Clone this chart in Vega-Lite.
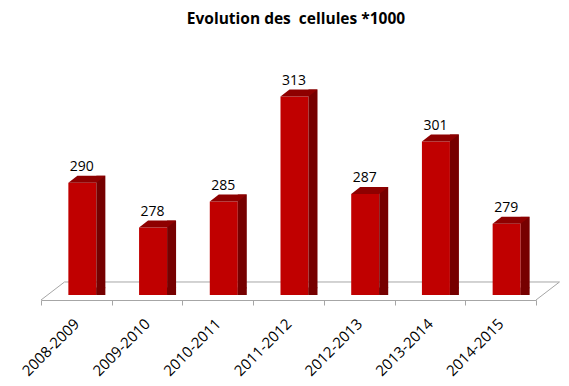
{
  "$schema": "https://vega.github.io/schema/vega-lite/v6.json",
  "width": 495,
  "height": 230,
  "autosize": {"type": "none"},
  "padding": {"left": 41, "top": 70, "right": 33, "bottom": 86},
  "background": "white",
  "title": {
    "text": "Evolution des \u00a0cellules *1000",
    "font": "Open Sans",
    "fontSize": 15.5,
    "fontWeight": "bold",
    "color": "black",
    "anchor": "middle",
    "frame": "group",
    "baseline": "alphabetic",
    "offset": 31,
    "dx": 7.5
  },
  "config": {
    "view": {"stroke": null},
    "axis": {
      "domainColor": "#A6A6A6",
      "tickColor": "#A6A6A6",
      "tickSize": 5,
      "grid": false,
      "labelFont": "Open Sans",
      "labelFontSize": 15,
      "labelColor": "black"
    }
  },
  "data": {
    "values": [
      {"saison": "2008-2009", "v": 290},
      {"saison": "2009-2010", "v": 278},
      {"saison": "2010-2011", "v": 285},
      {"saison": "2011-2012", "v": 313},
      {"saison": "2012-2013", "v": 287},
      {"saison": "2013-2014", "v": 301},
      {"saison": "2014-2015", "v": 279}
    ]
  },
  "layer": [
    {
      "data": {
        "values": [
          {"fx": 0, "fy": 258.66, "o": 1},
          {"fx": 0.332, "fy": 263.47, "o": 2},
          {"fx": 7.332, "fy": 263.47, "o": 3},
          {"fx": 7, "fy": 258.66, "o": 4}
        ]
      },
      "mark": {"type": "line", "stroke": "#A6A6A6", "strokeWidth": 1},
      "encoding": {
        "x": {"field": "fx", "type": "quantitative", "scale": {"domain": [0, 7], "nice": false, "zero": false}, "axis": null},
        "y": {"field": "fy", "type": "quantitative", "scale": {"domain": [258.66, 320.11], "nice": false, "zero": false}, "axis": null},
        "order": {"field": "o"}
      }
    },
    {
      "mark": {"type": "bar", "width": 28, "xOffset": 6, "color": "#C00000"},
      "encoding": {
        "x": {
          "field": "saison", "type": "nominal", "sort": null,
          "scale": {"paddingInner": 0, "paddingOuter": 0},
          "axis": {"title": null, "labelAngle": -45, "labelAlign": "right", "labelBaseline": "middle", "tickBand": "extent", "labelPadding": 16}
        },
        "y": {"field": "v", "type": "quantitative", "scale": {"domain": [258.66, 320.11], "nice": false, "zero": false}, "axis": null},
        "y2": {"datum": 260}
      }
    },
    {
      "mark": {"type": "bar", "width": 9, "xOffset": 24.5, "yOffset": -7, "color": "#760000"},
      "encoding": {
        "x": {"field": "saison", "type": "nominal", "sort": null, "axis": null},
        "y": {"field": "v", "type": "quantitative", "axis": null},
        "y2": {"datum": 260}
      }
    },
    {
      "mark": {"type": "point", "filled": true, "size": 100, "opacity": 1, "strokeWidth": 0, "color": "#760000", "shape": "M 4 0 L 4 -1.5 L 5.8 -1.5 L 5.8 -1.4 Z"},
      "encoding": {
        "x": {"field": "saison", "type": "nominal", "sort": null, "axis": null},
        "y": {"datum": 260, "axis": null}
      }
    },
    {
      "mark": {"type": "point", "filled": true, "size": 100, "opacity": 1, "strokeWidth": 0, "color": "#8E0000", "shape": "M -1.6 0 L 4 0 L 5.8 -1.4 L 0.2 -1.4 Z"},
      "encoding": {
        "x": {"field": "saison", "type": "nominal", "sort": null, "axis": null},
        "y": {"field": "v", "type": "quantitative", "axis": null}
      }
    },
    {
      "mark": {"type": "text", "font": "Open Sans", "fontSize": 14, "color": "black", "baseline": "alphabetic", "dx": 5.5, "dy": -11.6},
      "encoding": {
        "x": {"field": "saison", "type": "nominal", "sort": null, "axis": null},
        "y": {"field": "v", "type": "quantitative", "axis": null},
        "text": {"field": "v", "type": "quantitative"}
      }
    }
  ],
  "resolve": {"scale": {"x": "independent"}}
}
